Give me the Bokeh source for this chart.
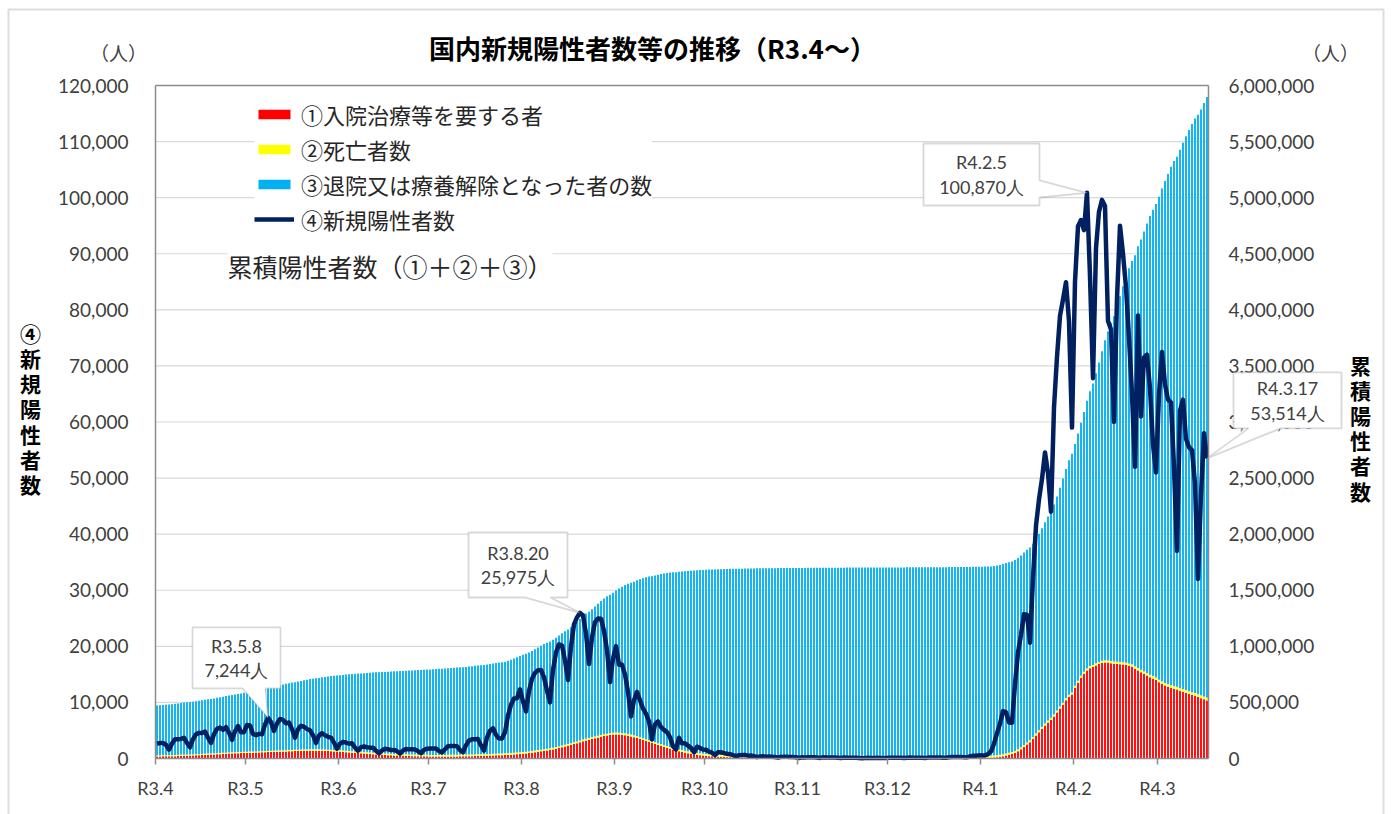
import numpy as np
import pandas as pd
from bokeh.plotting import figure
from bokeh.models import (Range1d, LinearAxis, FixedTicker, NumeralTickFormatter,
                          Legend, LegendItem, Label, PolyAnnotation)
from bokeh.embed import file_html
from bokeh.resources import INLINE

# ---------------------------------------------------------------- data
first_day = "2021-04-01"
last_day = "2022-03-17"
month_tick_labels = ["R3.4", "R3.5", "R3.6", "R3.7", "R3.8", "R3.9", "R3.10",
                     "R3.11", "R3.12", "R4.1", "R4.2", "R4.3"]
series_names = ["①入院治療等を要する者", "②死亡者数",
                "③退院又は療養解除となった者の数", "④新規陽性者数"]
cumulative_label = "累積陽性者数（①＋②＋③）"
left_axis_title = "④新規陽性者数"
right_axis_title = "累積陽性者数"
unit_label = "（人）"
chart_title = "国内新規陽性者数等の推移（R3.4～）"

# ④ daily new positives (left axis), one value per day, month by month
new_cases = [
    2599, 2775, 2767, 2455, 1571, 2659, 3451, 3446, 3489, 3697, 2779, 1999, 3451, 4312, 4570,
    4532, 4801, 3723, 2764, 4341, 5290, 5514, 5117, 5606, 4607, 3314, 4856, 5791, 4679, 4681,
    5982, 5897, 4383, 4164, 4396, 4305, 6054, 7244, 6479, 4921, 6233, 7057, 6872, 6266, 6416,
    5241, 3680, 5228, 5834, 5660, 5257, 5035, 4147, 2785, 4100, 4526, 4137, 3868, 3727, 2831, 1745,
    2646, 2955, 2842, 2628, 2705, 1956, 1385, 2018, 2148, 2009, 1939, 1931, 1383, 929, 1432,
    1723, 1660, 1504, 1526, 1314, 878, 1418, 1712, 1640, 1635, 1620, 1313, 935, 1554, 1742,
    1776, 1790, 1768, 1331, 1095, 1647, 2194, 2247, 2228, 2191, 1501, 1130, 2383, 3193, 3433,
    3412, 3460, 2321, 1401, 3758, 4941, 5395, 4225, 3574, 3574, 4692, 7629, 9576, 10699, 10743, 12340,
    10168, 8389, 12016, 14207, 15263, 15753, 15795, 14472, 12070, 10000, 15812, 18889, 20365, 20151, 17494,
    14000, 19955, 23917, 25156, 25975, 25492, 22285, 16837, 21570, 24316, 24976, 24935, 22747, 19297, 13617, 17843,
    20031, 16729, 16751, 15000, 11900, 7500, 10400, 11900, 10400, 8900, 8000, 6600, 3400, 6100, 6600,
    5600, 5100, 4700, 3800, 2200, 1600, 3700, 2700, 2700, 2300, 1900, 1100, 2100, 1900, 1600,
    1574, 1227, 1034, 603, 1127, 1128, 967, 845, 770, 616, 372, 596, 621, 620, 506,
    536, 429, 232, 373, 388, 327, 344, 318, 256, 154, 311, 290, 293, 281, 280, 213,
    86, 222, 167, 242, 206, 204, 162, 104, 213, 192, 195, 183, 176, 129, 82,
    181, 148, 140, 154, 128, 94, 50, 77, 131, 109, 103, 121, 93, 74, 97,
    136, 124, 114, 125, 125, 74, 139, 161, 145, 128, 147, 132, 94, 158, 176,
    173, 181, 188, 148, 134, 224, 253, 275, 265, 290, 241, 202, 386, 502, 485, 561,
    537, 554, 782, 1265, 2638, 4475, 6214, 8480, 8249, 6438, 6384, 13244, 18860, 22045, 25742,
    25654, 20656, 32197, 41485, 46199, 49854, 54576, 50876, 44000, 62613, 71633, 78930, 81825, 84936, 78000, 59000,
    85000, 94900, 96000, 94200, 100870, 86000, 67800, 91000, 97500, 99600, 98500, 78000, 76500, 60000,
    82000, 95000, 90000, 84000, 75000, 65000, 52000, 79000, 61000, 71500, 72000, 66000, 56000, 51000,
    65000, 72500, 66700, 64000, 63500, 52000, 37000, 62000, 64000, 57000, 55500, 55000, 49000, 32000,
    47000, 58000, 53514,
]

# ① persons requiring inpatient treatment etc. (thousands, right axis)
hospitalized_thousands = [
    18, 18, 19, 19, 20, 20, 21, 22, 23, 24, 25, 26, 27, 28, 29, 31, 32, 34, 35, 36, 38, 39, 41, 42, 44, 45, 46, 47, 48, 49,
    50, 51, 52, 53, 54, 55, 56, 57, 58, 59, 60, 61, 62, 63, 64, 65, 66, 67, 68, 69, 69, 70, 70, 70, 69, 68, 67, 66, 65, 63, 62,
    60, 58, 56, 54, 52, 50, 48, 46, 44, 42, 40, 38, 36, 34, 33, 31, 30, 28, 27, 26, 25, 24, 23, 22, 21, 21, 20, 20, 19, 19,
    17, 17, 17, 17, 17, 17, 18, 18, 18, 18, 19, 19, 20, 20, 21, 22, 23, 23, 24, 25, 26, 27, 28, 29, 30, 31, 32, 34, 36, 38, 40,
    42, 45, 48, 52, 56, 60, 64, 68, 72, 76, 81, 87, 93, 100, 107, 114, 121, 129, 137, 145, 153, 160, 167, 174, 181, 188, 194, 200, 205, 209, 213,
    215, 214, 212, 208, 203, 197, 190, 182, 174, 165, 156, 147, 138, 129, 120, 111, 102, 94, 86, 78, 71, 64, 58, 52, 47, 42, 37, 33, 29, 26,
    23, 21, 19, 17, 15, 14, 13, 12, 11, 10, 9, 8, 8, 7, 6, 6, 5, 5, 5, 4, 4, 4, 3, 3, 3, 3, 3, 3, 2, 2, 2,
    2, 2, 2, 2, 2, 2, 2, 2, 2, 2, 2, 1, 1, 1, 1, 1, 1, 1, 1, 1, 1, 1, 1, 1, 1, 1, 1, 1, 1, 1,
    1, 1, 1, 1, 1, 1, 1, 1, 1, 1, 1, 1, 1, 1, 1, 1, 1, 1, 1, 1, 2, 2, 2, 2, 2, 2, 3, 3, 3, 3, 4,
    4, 5, 6, 7, 9, 12, 16, 21, 27, 33, 40, 50, 64, 82, 103, 125, 145, 175, 205, 235, 265, 295, 320, 345, 375, 410, 445, 480, 520, 550, 570,
    630, 675, 720, 755, 785, 805, 815, 830, 842, 852, 856, 855, 850, 845, 842, 840, 838, 833, 826, 818, 800, 785, 770, 755, 740, 725, 712, 700,
    680, 665, 650, 640, 630, 622, 615, 605, 595, 585, 575, 566, 558, 548, 538, 528, 518,
]

# ② daily deaths (accumulated onto the deaths already recorded before R3.4)
deaths_daily = [
    35, 30, 30, 15, 20, 30, 40, 25, 35, 30, 15, 20, 35, 40, 30, 40, 35, 25, 30, 40, 45, 45, 40, 50, 35, 30, 55, 50, 45, 45,
    60, 55, 60, 70, 65, 80, 95, 100, 70, 80, 110, 105, 100, 100, 95, 80, 85, 110, 115, 110, 100, 95, 80, 85, 105, 110, 95, 85, 80, 60, 75,
    90, 85, 80, 75, 70, 60, 55, 70, 65, 60, 60, 55, 45, 50, 55, 50, 45, 45, 40, 35, 30, 45, 40, 35, 35, 30, 25, 30, 30, 25,
    25, 20, 20, 15, 15, 20, 20, 15, 15, 15, 10, 10, 15, 15, 15, 15, 10, 10, 10, 15, 15, 15, 10, 10, 10, 10, 15, 15, 15, 15, 15,
    10, 10, 15, 15, 15, 15, 15, 10, 10, 15, 20, 20, 25, 25, 20, 20, 25, 30, 40, 35, 40, 35, 30, 45, 45, 50, 55, 50, 50, 40, 60,
    65, 65, 60, 60, 55, 50, 60, 65, 60, 60, 55, 50, 40, 55, 55, 50, 45, 40, 35, 30, 30, 45, 40, 35, 30, 25, 20, 30, 30, 25,
    25, 25, 20, 15, 20, 20, 20, 15, 15, 15, 10, 15, 15, 15, 10, 10, 10, 5, 10, 10, 10, 10, 5, 5, 5, 5, 5, 5, 5, 5, 5,
    5, 5, 5, 5, 5, 5, 3, 3, 3, 5, 3, 3, 3, 3, 2, 3, 3, 3, 3, 3, 2, 2, 2, 3, 3, 3, 2, 2, 2, 2,
    3, 2, 2, 1, 2, 2, 3, 2, 2, 1, 2, 3, 2, 2, 3, 2, 2, 1, 2, 2, 3, 2, 2, 2, 1, 2, 3, 2, 3, 2, 2,
    1, 2, 2, 1, 3, 2, 3, 4, 3, 2, 5, 6, 7, 9, 10, 9, 11, 15, 18, 20, 25, 26, 24, 30, 40, 45, 50, 55, 60, 55, 70,
    80, 90, 100, 110, 120, 110, 110, 140, 160, 170, 160, 150, 120, 140, 180, 220, 230, 220, 200, 170, 160, 220, 180, 230, 240, 220, 180, 180,
    200, 210, 220, 200, 190, 160, 140, 180, 200, 190, 170, 150, 120, 120, 160, 150, 140,
]

cumulative_positive_before = 469_500
cumulative_deaths_before = 9_150
callout_dates = ["2021-05-08", "2021-08-20", "2022-02-05", "2022-03-17"]

# ---------------------------------------------------------------- derived
dates = pd.date_range(first_day, last_day, freq="D")
n = len(dates)
assert len(new_cases) == n and len(hospitalized_thousands) == n and len(deaths_daily) == n

xs = np.arange(n) + 0.5
new_arr = np.array(new_cases, dtype=float)
cum_total = cumulative_positive_before + np.cumsum(new_arr)
cum_deaths = cumulative_deaths_before + np.cumsum(np.array(deaths_daily, dtype=float))
hosp = np.array(hospitalized_thousands, dtype=float) * 1000
month_starts = [int(i) for i in np.where(dates.day == 1)[0]]

# ---------------------------------------------------------------- layout
# The canvas is the whole page; the plot area sits inside it and the axes are
# pinned to the plot-area edges with fixed_location.
CW, CH = 1391, 814            # canvas size (page px)
FL, FT, FW, FH = 155, 85, 1053, 673   # plot area (page px)
Y_MAX, Y2_MAX = 120_000, 6_000_000
RATIO = Y2_MAX / Y_MAX
GRAY = "#8c8c8c"
TXT = "#404040"
JP = "Noto Sans CJK JP"


def px_x(X):
    return (X - FL) * n / FW


def px_y(Y):
    return (FT + FH - Y) * Y_MAX / FH


p = figure(width=CW, height=CH,
           x_range=Range1d(px_x(0), px_x(CW)), y_range=Range1d(px_y(CH), px_y(0)),
           output_backend="svg", toolbar_location=None,
           min_border=0, min_border_left=0, min_border_right=0, min_border_top=0, min_border_bottom=0,
           outline_line_color=None, background_fill_color="white", border_fill_color="white")
p.extra_y_ranges = {"cum": Range1d(px_y(CH) * RATIO, px_y(0) * RATIO)}
p.xgrid.visible = False
p.ygrid.visible = False

# outer chart frame
p.add_layout(PolyAnnotation(xs=[px_x(8), px_x(1383), px_x(1383), px_x(8)],
                            ys=[px_y(9), px_y(9), px_y(CH + 20), px_y(CH + 20)],
                            fill_alpha=0, line_color="#8f8f8f", line_width=2))

# axes -------------------------------------------------------------------
yl = p.yaxis[0]
yl.ticker = FixedTicker(ticks=list(range(0, Y_MAX + 1, 10_000)))
yl.formatter = NumeralTickFormatter(format="0,0")
yl.fixed_location = 0
yl.bounds = (0, Y_MAX)
yr = LinearAxis(y_range_name="cum", ticker=FixedTicker(ticks=list(range(0, Y2_MAX + 1, 500_000))),
                formatter=NumeralTickFormatter(format="0,0"), fixed_location=n, bounds=(0, Y2_MAX))
for ax, standoff in [(yl, 27), (yr, 20)]:
    ax.major_tick_out = 0
    ax.major_tick_in = 0
    ax.major_tick_line_color = None
    ax.minor_tick_line_color = None
    ax.axis_line_color = GRAY
    ax.axis_line_width = 1.5
    ax.major_label_text_font = "Lato"
    ax.major_label_text_font_size = "19px"
    ax.major_label_text_color = TXT
    ax.major_label_standoff = standoff
p.add_layout(yr, "right")

xa = p.xaxis[0]
xa.ticker = FixedTicker(ticks=month_starts)
xa.major_label_overrides = {t: lab for t, lab in zip(month_starts, month_tick_labels)}
xa.fixed_location = 0
xa.bounds = (0, n)
xa.major_tick_out = 6
xa.major_tick_in = 0
xa.major_tick_line_color = GRAY
xa.major_tick_line_width = 1.5
xa.minor_tick_line_color = None
xa.axis_line_color = GRAY
xa.axis_line_width = 1.5
xa.major_label_text_font = "Lato"
xa.major_label_text_font_size = "18px"
xa.major_label_text_color = TXT
xa.major_label_standoff = 12

# horizontal grid lines across the plot area, plus its top edge
grid_vals = list(range(10_000, Y_MAX, 10_000))
p.segment(x0=[0] * len(grid_vals), y0=grid_vals, x1=[n] * len(grid_vals), y1=grid_vals,
          line_color="#d9d9d9", line_width=1.2)
p.segment(x0=[0], y0=[Y_MAX], x1=[n], y1=[Y_MAX], line_color=GRAY, line_width=1.5)

# bars (right axis) and line (left axis) ------------------------------
BW = 0.62
r_hosp = p.vbar(x=xs, width=BW, bottom=0, top=hosp, y_range_name="cum",
                fill_color="#FF0000", line_color=None)
r_dead = p.vbar(x=xs, width=BW, bottom=hosp, top=hosp + cum_deaths, y_range_name="cum",
                fill_color="#FFFF00", line_color=None)
r_disc = p.vbar(x=xs, width=BW, bottom=hosp + cum_deaths, top=cum_total, y_range_name="cum",
                fill_color="#00B0F0", line_color=None)
r_line = p.line(x=xs, y=new_arr, line_color="#002060", line_width=4.5, line_join="round")

legend = Legend(items=[LegendItem(label=series_names[0], renderers=[r_hosp]),
                       LegendItem(label=series_names[1], renderers=[r_dead]),
                       LegendItem(label=series_names[2], renderers=[r_disc]),
                       LegendItem(label=series_names[3], renderers=[r_line])],
                location=(254, CH - 235), glyph_width=40, glyph_height=12, label_standoff=7,
                spacing=3, label_height=24, padding=8,
                background_fill_color="white", background_fill_alpha=1.0, border_line_color=None,
                label_text_font=JP, label_text_font_size="22px",
                label_text_color="#262626")
p.add_layout(legend)

p.add_layout(Label(x=px_x(227), y=px_y(265), text=cumulative_label, text_align="left",
                   text_baseline="middle", text_font=JP, text_font_size="25px",
                   text_color="#262626", background_fill_color="white"))

# callouts --------------------------------------------------------------
callout_shapes = [
    dict(box=(-75.5, -90.4, 12.5, -29.4), side="bottom", base=(-25.5, -2.5)),
    dict(box=(-111.5, -80.3, -12.5, -15.3), side="bottom", base=(-54.5, -29.5)),
    dict(box=(-163.5, -49.3, -47.5, 12.7), side="right", base=(-12.3, 4.7)),
    dict(box=(26.5, -86.0, 134.5, -30.0), side="bottom", base=(41.5, 73.5)),
]
for dstr, shp in zip(callout_dates, callout_shapes):
    d = pd.Timestamp(dstr)
    i = int((d - dates[0]).days)
    v = new_cases[i]
    ax_px = FL + xs[i] * FW / n
    ay_px = FT + FH - v * FH / Y_MAX
    l, t, r, b = [ax_px + shp["box"][0], ay_px + shp["box"][1], ax_px + shp["box"][2], ay_px + shp["box"][3]]
    if shp["side"] == "bottom":
        b1, b2 = ax_px + shp["base"][0], ax_px + shp["base"][1]
        pts = [(l, t), (r, t), (r, b), (b2, b), (ax_px, ay_px), (b1, b), (l, b)]
    else:
        b1, b2 = ay_px + shp["base"][0], ay_px + shp["base"][1]
        pts = [(l, t), (r, t), (r, b1), (ax_px, ay_px), (r, b2), (r, b), (l, b)]
    p.add_layout(PolyAnnotation(xs=[px_x(X) for X, _ in pts], ys=[px_y(Y) for _, Y in pts],
                                fill_color="white", fill_alpha=1.0,
                                line_color="#7f7f7f", line_width=1.8))
    txt = f"R{d.year - 2018}.{d.month}.{d.day}\n{v:,}人"
    p.add_layout(Label(x=px_x((l + r) / 2), y=px_y((t + b) / 2), text=txt,
                       text_align="center", text_baseline="middle",
                       text_font="Lato", text_font_size="18px", text_color=TXT,
                       text_line_height=1.12))

# titles ------------------------------------------------------------------
p.add_layout(Label(x=px_x(652), y=px_y(47), text=chart_title, text_align="center",
                   text_baseline="middle", text_font=JP, text_font_size="26px",
                   text_font_style="bold", text_color="#000000"))
for X in (118, 1330):
    p.add_layout(Label(x=px_x(X), y=px_y(52), text=unit_label, text_align="center",
                       text_baseline="middle", text_font=JP, text_font_size="19px",
                       text_color=TXT))
p.add_layout(Label(x=px_x(30), y=px_y(408), text="\n".join(left_axis_title), text_align="center",
                   text_baseline="middle", text_font=JP, text_font_size="21px",
                   text_font_style="bold", text_color="#000000", text_line_height=0.84))
p.add_layout(Label(x=px_x(1360), y=px_y(427), text="\n".join(right_axis_title), text_align="center",
                   text_baseline="middle", text_font=JP, text_font_size="21px",
                   text_font_style="bold", text_color="#000000", text_line_height=0.84))

open("out.html", "w").write(file_html(p, INLINE))
